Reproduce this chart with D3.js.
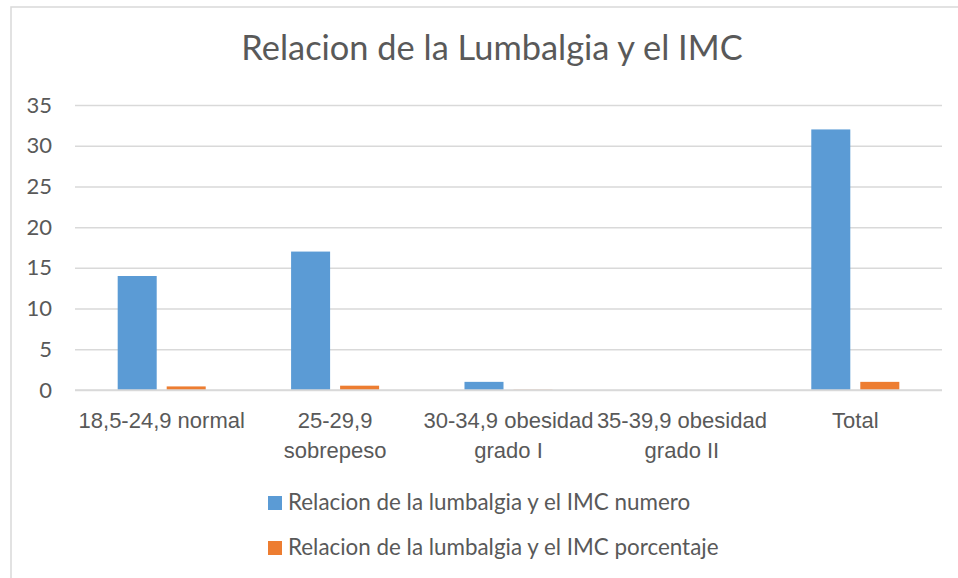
<!DOCTYPE html>
<html>
<head>
<meta charset="utf-8">
<script src="https://cdn.jsdelivr.net/npm/d3@7"></script>
<style>
  html, body { margin: 0; padding: 0; background: #fff; }
  svg { display: block; font-family: Lato, "Open Sans", sans-serif; }
</style>
</head>
<body>
<svg id="chart" width="958" height="578"></svg>
<script>
const categories = [
  ["18,5-24,9 normal"],
  ["25-29,9", "sobrepeso"],
  ["30-34,9 obesidad", "grado I"],
  ["35-39,9 obesidad", "grado II"],
  ["Total"]
];
const seriesNames = [
  "Relacion de la lumbalgia y el IMC numero",
  "Relacion de la lumbalgia y el IMC porcentaje"
];
const numero = [14, 17, 1, 0, 32];
const porcentaje = [0.44, 0.53, 0.03, 0, 1];
const yTicks = [0, 5, 10, 15, 20, 25, 30, 35];
const titleText = "Relacion de la Lumbalgia y el IMC";
const colors = ["#5b9bd5", "#ed7d31"];

const svg = d3.select("#chart");
const textColor = "#595959";
const gridColor = "#d9d9d9";

// chart border
svg.append("rect")
  .attr("x", 11).attr("y", 7)
  .attr("width", 1000).attr("height", 700)
  .attr("fill", "#fff")
  .attr("stroke", gridColor).attr("stroke-width", 1.5);

const plot = { left: 75, right: 942, top: 105, bottom: 390 };

const x0 = d3.scaleBand()
  .domain(d3.range(categories.length))
  .range([plot.left, plot.right])
  .padding(0);
const x1 = d3.scaleBand()
  .domain(d3.range(seriesNames.length))
  .range([0, x0.bandwidth()])
  .paddingInner(0.204)
  .paddingOuter(0.871);
const y = d3.scaleLinear().domain([0, 35]).range([plot.bottom, plot.top]);

// title
svg.append("text")
  .attr("x", 492).attr("y", 60)
  .attr("text-anchor", "middle")
  .attr("fill", textColor)
  .attr("font-size", 34.4)
  .text(titleText);

// grid + y axis
const yAxis = d3.axisLeft(y).tickValues(yTicks).tickSize(-(plot.right - plot.left)).tickPadding(23);
const gy = svg.append("g").attr("transform", `translate(${plot.left},0)`).call(yAxis);
gy.select(".domain").remove();
gy.selectAll(".tick line").attr("stroke", gridColor).attr("stroke-width", 1.5);
gy.selectAll(".tick text")
  .attr("fill", textColor)
  .attr("font-size", 22)
  .attr("font-family", "Lato, sans-serif");

// bars
const data = categories.map((c, i) => [numero[i], porcentaje[i]]);
const groups = svg.append("g").selectAll("g")
  .data(data).join("g")
  .attr("transform", (d, i) => `translate(${x0(i)},0)`);
groups.selectAll("rect")
  .data(d => d.map((v, s) => ({ v, s })))
  .join("rect")
  .attr("x", d => x1(d.s))
  .attr("width", x1.bandwidth())
  .attr("y", d => y(d.v))
  .attr("height", d => y(0) - y(d.v))
  .attr("fill", d => colors[d.s]);

// x axis baseline redraw on top
svg.append("line")
  .attr("x1", plot.left).attr("x2", plot.right)
  .attr("y1", y(0)).attr("y2", y(0))
  .attr("stroke", gridColor).attr("stroke-width", 1.5);

// category labels
const xAxis = d3.axisBottom(x0).tickSize(0).tickFormat(() => "");
const gx = svg.append("g").attr("transform", `translate(0,${plot.bottom})`).call(xAxis);
gx.select(".domain").remove();
gx.selectAll(".tick").each(function(d) {
  const t = d3.select(this).append("text")
    .attr("fill", textColor)
    .attr("font-size", 22)
    .attr("text-anchor", "middle");
  categories[d].forEach((line, k) => {
    t.append("tspan").attr("x", 0).attr("y", 38 + k * 30).text(line);
  });
});

// legend
const legend = svg.append("g");
seriesNames.forEach((name, i) => {
  const gy0 = 496 + i * 45;
  legend.append("rect")
    .attr("x", 268).attr("y", gy0)
    .attr("width", 14).attr("height", 14)
    .attr("fill", colors[i]);
  legend.append("text")
    .attr("x", 288).attr("y", gy0 + 14)
    .attr("fill", textColor)
    .attr("font-size", 22.4)
    .text(name);
});
</script>
</body>
</html>
